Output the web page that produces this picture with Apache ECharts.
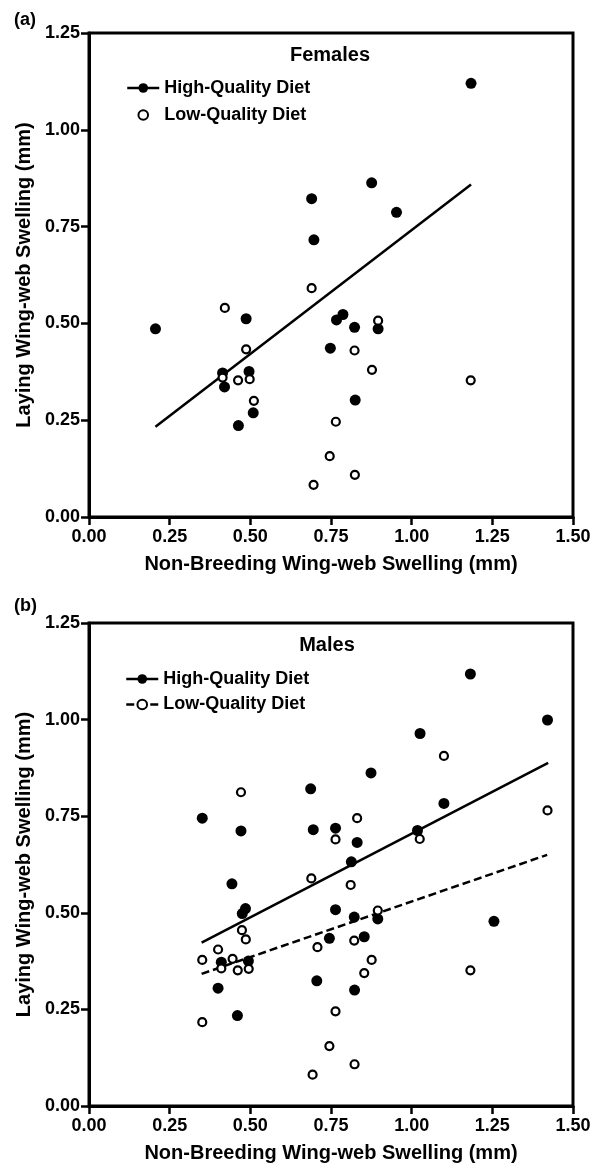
<!DOCTYPE html>
<html>
<head>
<meta charset="utf-8">
<script src="https://cdn.jsdelivr.net/npm/echarts@6/dist/echarts.min.js"></script>
<style>
html,body{margin:0;padding:0;background:#fff;}
#chart{width:597px;height:1164px;}
</style>
</head>
<body>
<div id="chart"></div>
<script>
// ---- Data ----
var xTicks = [0, 0.25, 0.5, 0.75, 1.0, 1.25, 1.5];
var yTicks = [0, 0.25, 0.5, 0.75, 1.0, 1.25];

// (a) Females
var femHighX = [1.184, 0.876, 0.690, 0.953, 0.697, 0.206, 0.487, 0.767, 0.787, 0.823, 0.896, 0.748, 0.414, 0.496, 0.420, 0.825, 0.509, 0.463];
var femHighY = [1.120, 0.863, 0.822, 0.787, 0.716, 0.486, 0.512, 0.509, 0.523, 0.490, 0.486, 0.436, 0.372, 0.376, 0.336, 0.302, 0.269, 0.236];
var femLowX = [0.690, 0.421, 0.896, 0.487, 0.823, 0.877, 0.414, 0.462, 0.498, 1.183, 0.511, 0.765, 0.746, 0.824, 0.696];
var femLowY = [0.591, 0.540, 0.507, 0.433, 0.430, 0.380, 0.360, 0.353, 0.356, 0.353, 0.300, 0.246, 0.157, 0.109, 0.083];
var femHighFitX = [0.206, 1.184];
var femHighFitY = [0.233, 0.859];

// (b) Males
var maleHighX = [1.182, 1.421, 1.026, 0.874, 0.687, 1.100, 0.351, 0.471, 0.695, 0.764, 1.018, 0.831, 0.813, 0.443, 0.485, 0.475, 0.764, 0.822, 0.895, 1.255, 0.745, 0.853, 0.410, 0.494, 0.400, 0.706, 0.823, 0.460];
var maleHighY = [1.118, 0.999, 0.964, 0.862, 0.821, 0.783, 0.745, 0.712, 0.715, 0.719, 0.713, 0.682, 0.632, 0.575, 0.511, 0.498, 0.508, 0.489, 0.484, 0.478, 0.434, 0.438, 0.372, 0.375, 0.305, 0.324, 0.300, 0.234];
var maleLowX = [1.100, 0.471, 1.421, 0.831, 0.764, 1.025, 0.689, 0.811, 0.895, 0.474, 0.486, 0.822, 0.708, 0.400, 0.351, 0.445, 0.876, 0.410, 0.461, 0.495, 1.182, 0.853, 0.764, 0.351, 0.745, 0.823, 0.693];
var maleLowY = [0.906, 0.812, 0.765, 0.745, 0.690, 0.691, 0.589, 0.572, 0.506, 0.455, 0.431, 0.428, 0.411, 0.405, 0.378, 0.381, 0.378, 0.356, 0.351, 0.355, 0.351, 0.344, 0.245, 0.217, 0.155, 0.108, 0.081];
var maleHighFitX = [0.349, 1.423];
var maleHighFitY = [0.423, 0.888];
var maleLowFitX = [0.349, 1.420];
var maleLowFitY = [0.342, 0.650];

var panelLabels = ['(a)', '(b)'];
var panelTitles = ['Females', 'Males'];
var xAxisTitle = 'Non-Breeding Wing-web Swelling (mm)';
var yAxisTitle = 'Laying Wing-web Swelling (mm)';
var legendNames = {
  fHigh: 'High-Quality Diet', fLow: 'Low-Quality Diet',
  mHigh: 'High-Quality Diet', mLow: 'Low-Quality Diet'
};

// ---- helpers ----
function zip(xs, ys) { return xs.map(function (x, i) { return [x, ys[i]]; }); }

var FONT = '"Liberation Sans", Arial, Helvetica, sans-serif';
var grids = [
  { left: 89, top: 33, width: 484, height: 484 },
  { left: 89, top: 623, width: 484, height: 484 }
];

function xAxisFor(i) {
  return {
    type: 'value', gridIndex: i, min: xTicks[0], max: xTicks[xTicks.length - 1],
    interval: xTicks[1] - xTicks[0],
    name: xAxisTitle, nameLocation: 'middle', nameGap: 37,
    nameTextStyle: { fontFamily: FONT, fontWeight: 'bold', fontSize: 20, color: '#000' },
    axisLine: { show: true, lineStyle: { color: '#000', width: 3 } },
    axisTick: { show: true, length: 8, lineStyle: { color: '#000', width: 2.5 } },
    axisLabel: { show: true, margin: 11, color: '#000', fontFamily: FONT, fontWeight: 'bold', fontSize: 18,
      showMinLabel: true, showMaxLabel: true,
      formatter: function (v) { return v.toFixed(2); } },
    splitLine: { show: false }
  };
}
function yAxisFor(i) {
  return {
    type: 'value', gridIndex: i, min: yTicks[0], max: yTicks[yTicks.length - 1],
    interval: yTicks[1] - yTicks[0],
    name: yAxisTitle, nameLocation: 'middle', nameGap: 52,
    nameTextStyle: { fontFamily: FONT, fontWeight: 'bold', fontSize: 20, color: '#000' },
    axisLine: { show: true, lineStyle: { color: '#000', width: 3 } },
    axisTick: { show: true, length: 8, lineStyle: { color: '#000', width: 2.5 } },
    axisLabel: { show: true, margin: 9, color: '#000', fontFamily: FONT, fontWeight: 'bold', fontSize: 18,
      showMinLabel: true, showMaxLabel: true,
      formatter: function (v) { return v.toFixed(2); } },
    splitLine: { show: false }
  };
}

var filledStyle = { color: '#000', opacity: 1 };
var openStyle = { color: '#fff', borderColor: '#000', borderWidth: 2.2, opacity: 1 };

var option = {
  animation: false,
  backgroundColor: '#fff',
  title: [
    { text: panelLabels[0], left: 14, top: 11, padding: 0,
      textStyle: { fontFamily: FONT, fontWeight: 'bold', fontSize: 18, color: '#000' } },
    { text: panelTitles[0], left: 330, top: 45, padding: 0, textAlign: 'center',
      textStyle: { fontFamily: FONT, fontWeight: 'bold', fontSize: 20, color: '#000' } },
    { text: panelLabels[1], left: 14, top: 597, padding: 0,
      textStyle: { fontFamily: FONT, fontWeight: 'bold', fontSize: 18, color: '#000' } },
    { text: panelTitles[1], left: 327, top: 635, padding: 0, textAlign: 'center',
      textStyle: { fontFamily: FONT, fontWeight: 'bold', fontSize: 20, color: '#000' } }
  ],
  legend: [
    { data: ['fHigh', 'fLow'], orient: 'vertical', left: 126, top: 79, padding: 0,
      itemWidth: 32, itemHeight: 12, itemGap: 9, selectedMode: false,
      lineStyle: { width: 2.5 },
      formatter: function (n) { return legendNames[n]; },
      textStyle: { fontFamily: FONT, fontWeight: 'bold', fontSize: 18, color: '#000' } },
    { data: ['mHigh', 'mLow'], orient: 'vertical', left: 125, top: 670, padding: 0,
      itemWidth: 32, itemHeight: 12, itemGap: 7.5, selectedMode: false,
      lineStyle: { width: 2.5 },
      formatter: function (n) { return legendNames[n]; },
      textStyle: { fontFamily: FONT, fontWeight: 'bold', fontSize: 18, color: '#000' } }
  ],
  grid: grids.map(function (g) {
    return Object.assign({ show: true, borderColor: '#000', borderWidth: 3, backgroundColor: 'transparent', containLabel: false }, g);
  }),
  xAxis: [xAxisFor(0), xAxisFor(1)],
  yAxis: [yAxisFor(0), yAxisFor(1)],
  series: [
    { name: 'fHigh', type: 'line', xAxisIndex: 0, yAxisIndex: 0, data: zip(femHighFitX, femHighFitY),
      symbol: 'circle', showSymbol: false, z: 2,
      lineStyle: { color: '#000', width: 2.5 }, itemStyle: filledStyle },
    // legend-only entry for the female low-quality group (no fitted line in the figure)
    { name: 'fLow', type: 'line', xAxisIndex: 0, yAxisIndex: 0, data: [],
      symbol: 'circle', showSymbol: false, z: 1,
      lineStyle: { color: 'rgba(0,0,0,0)', width: 2.5 }, itemStyle: openStyle },
    { name: 'fHighPts', type: 'scatter', xAxisIndex: 0, yAxisIndex: 0, data: zip(femHighX, femHighY),
      symbol: 'circle', symbolSize: 11, z: 3, itemStyle: filledStyle },
    { name: 'fLowPts', type: 'scatter', xAxisIndex: 0, yAxisIndex: 0, data: zip(femLowX, femLowY),
      symbol: 'circle', symbolSize: 8, z: 4, itemStyle: openStyle },

    { name: 'mHigh', type: 'line', xAxisIndex: 1, yAxisIndex: 1, data: zip(maleHighFitX, maleHighFitY),
      symbol: 'circle', showSymbol: false, z: 2,
      lineStyle: { color: '#000', width: 2.5 }, itemStyle: filledStyle },
    { name: 'mLow', type: 'line', xAxisIndex: 1, yAxisIndex: 1, data: zip(maleLowFitX, maleLowFitY),
      symbol: 'circle', showSymbol: false, z: 2,
      lineStyle: { color: '#000', width: 2.5, type: [8, 4] }, itemStyle: openStyle },
    { name: 'mHighPts', type: 'scatter', xAxisIndex: 1, yAxisIndex: 1, data: zip(maleHighX, maleHighY),
      symbol: 'circle', symbolSize: 11, z: 3, itemStyle: filledStyle },
    { name: 'mLowPts', type: 'scatter', xAxisIndex: 1, yAxisIndex: 1, data: zip(maleLowX, maleLowY),
      symbol: 'circle', symbolSize: 8, z: 4, itemStyle: openStyle }
  ]
};

var chart = echarts.init(document.getElementById('chart'), null, { renderer: 'canvas' });
chart.setOption(option);
</script>
</body>
</html>
